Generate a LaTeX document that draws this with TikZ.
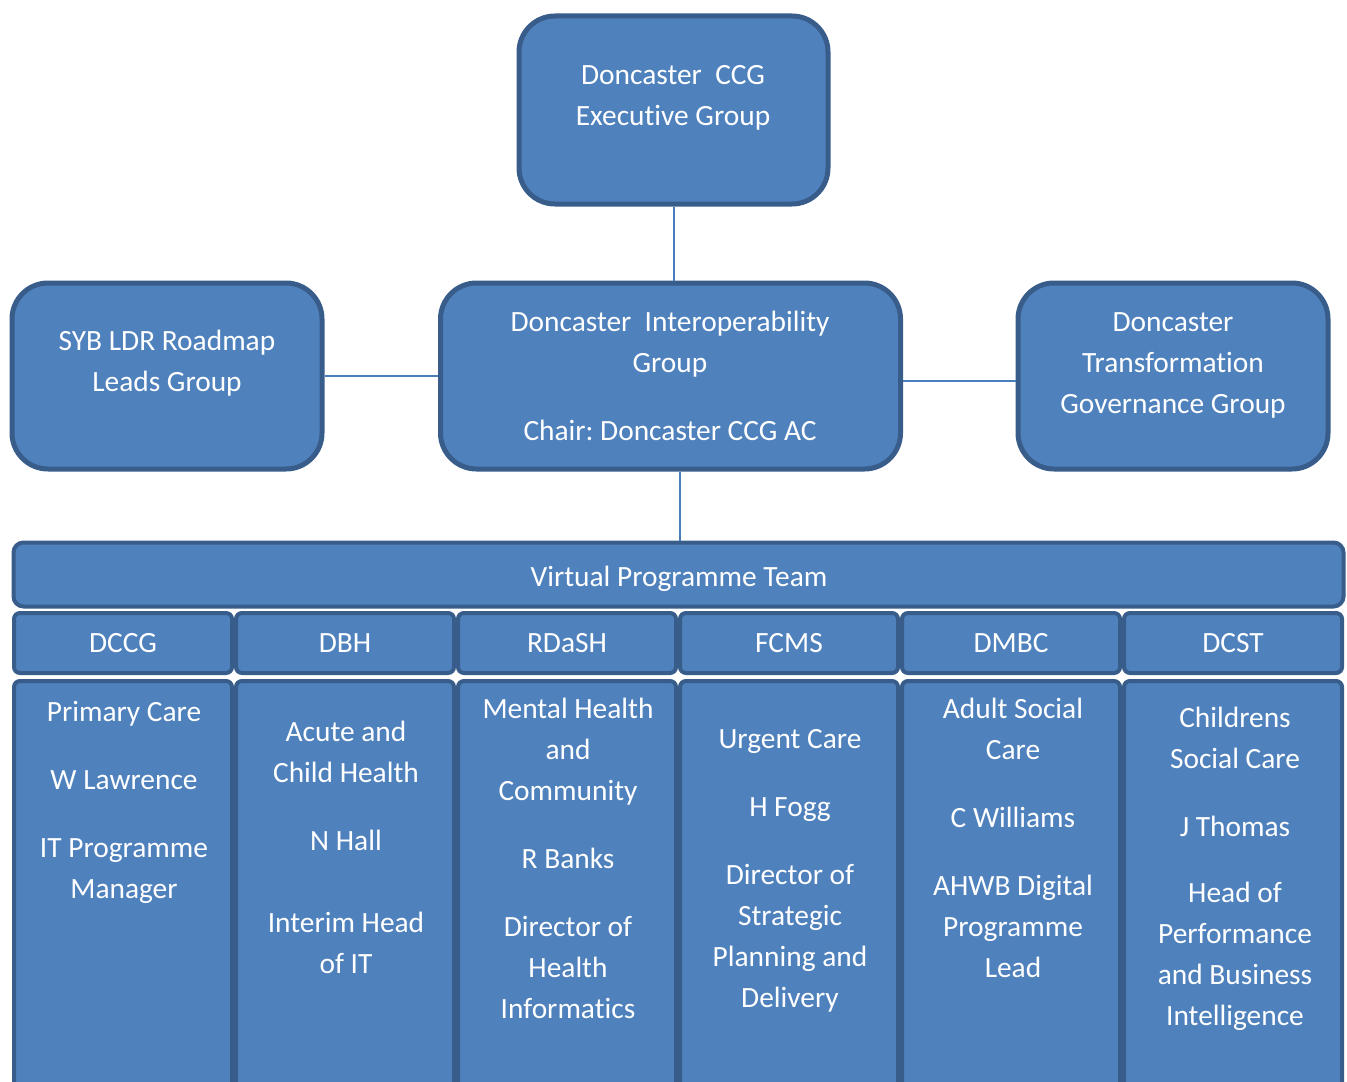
\documentclass[tikz,border=0pt]{standalone}
\usepackage{fontspec}
\setmainfont[Ligatures=NoCommon]{Carlito}
\frenchspacing

\definecolor{boxfill}{HTML}{4F81BD}
\definecolor{boxline}{HTML}{385D8A}
\definecolor{linkline}{HTML}{4A7EBB}

\tikzset{
    txt/.style={font=\fontsize{14.7}{20.5}\selectfont},
    group/.style={draw=boxline, line width=2.5pt, fill=boxfill, rounded corners=18pt},
    team/.style={draw=boxline, line width=2pt, fill=boxfill, rounded corners=5pt,
        text=white, txt},
    cell/.style={draw=boxline, line width=2pt, fill=boxfill, rounded corners=3pt,
        minimum width=109pt, text=white, txt},
    words/.style={text=white, align=center, anchor=north, inner sep=0pt, txt},
    link/.style={draw=linkline, line width=1pt}
}

\begin{document}
\begin{tikzpicture}[x=0.5pt, y=-0.5pt]

            % page is 1347 x 1081 units
            \useasboundingbox (0,0) rectangle (1347,1081);
            \clip (0,0) rectangle (1347,1081);

            % top groups
            \node[group, minimum width=154.5pt, minimum height=94pt] (exec) at (673.5,110) {};
            \node[group, minimum width=155pt, minimum height=93pt] (syb) at (167,376) {};
            \node[group, minimum width=230pt, minimum height=93pt] (interop) at (670.5,376) {};
            \node[group, minimum width=155pt, minimum height=93pt] (trans) at (1173,376) {};

            \node[words] (exectext) at (673,55) {\strut Doncaster\ \ CCG\\ Executive Group};
            \node[words] (sybtext) at (167,321) {\strut SYB LDR Roadmap\\ Leads Group};
            \node[words] (interoptext) at (670,302)
                {\strut Doncaster\ \ Interoperability\\ Group\\[13.5pt] Chair: Doncaster CCG AC};
            \node[words] (transtext) at (1173,302)
                {\strut Doncaster\\ Transformation\\ Governance Group};

            % virtual programme team
            \node[team, minimum width=665pt, minimum height=32pt] (team) at (678.5,574.5) {};
            \node[words] (teamtext) at (679,557) {\strut Virtual Programme Team};

            % one column per organisation
            \foreach \name [count=\i from 0] in {DCCG,DBH,RDaSH,FCMS,DMBC,DCST} {
                \node[cell, minimum height=30pt] (head\i) at (123+222*\i,643) {\name};
                \node[cell, minimum height=220pt, anchor=north] (body\i) at (123+222*\i,679) {};
            }

            % column texts
            \node[words] (dccg) at (124,692)
                {\strut Primary Care\\[13.5pt] W Lawrence\\[13.5pt] IT Programme\\ Manager};
            \node[words] (dbh) at (346,712)
                {\strut Acute and\\ Child Health\\[13.5pt] N Hall\\[20.5pt] Interim Head\\ of IT};
            \node[words] (rdash) at (568,689)
                {\strut Mental Health\\ and\\ Community\\[13.5pt] R Banks\\[13.5pt] Director of\\ Health\\ Informatics};
            \node[words] (fcms) at (790,719)
                {\strut Urgent Care\\[13.5pt] H Fogg\\[13.5pt] Director of\\ Strategic\\ Planning and\\ Delivery};
            \node[words] (dmbc) at (1013,689)
                {\strut Adult Social\\ Care\\[13.5pt] C Williams\\[13.5pt] AHWB Digital\\ Programme\\ Lead};
            \node[words] (dcst) at (1235,698)
                {\strut Childrens\\ Social Care\\[13.5pt] J Thomas\\[12.5pt] Head of\\ Performance\\ and Business\\ Intelligence};

            % connectors
            \draw[link] (exec.south) -- (exec.south |- interop.north);
            \draw[link] (syb.east) -- (interop.west);
            \draw[link] ([yshift=-2.5pt]interop.east) -- ([yshift=-2.5pt]trans.west);
            \draw[link] ([xshift=4.75pt]interop.south) -- ([xshift=4.75pt]interop.south |- team.north);

\end{tikzpicture}
\end{document}
